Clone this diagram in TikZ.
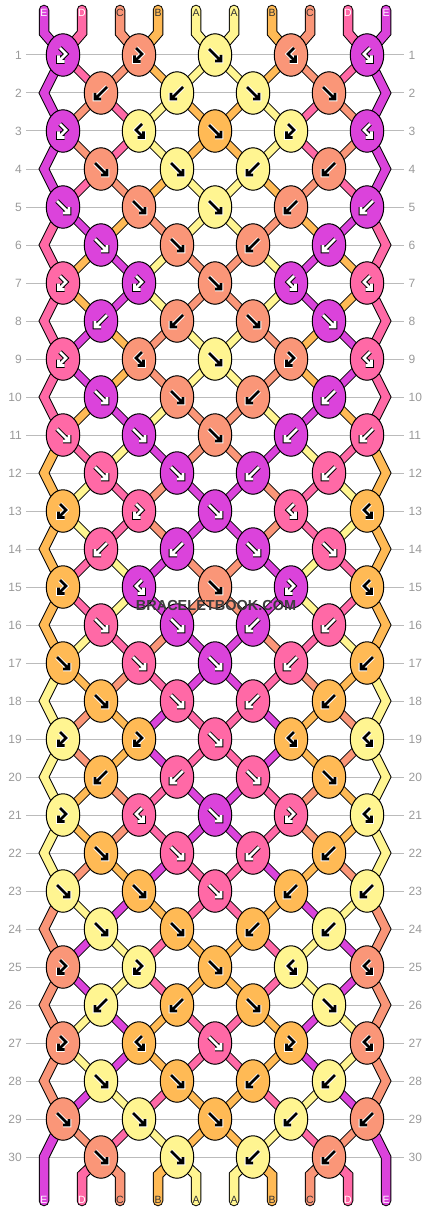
\documentclass[tikz,border=0pt]{standalone}
\usepackage{fontspec}
\setmainfont{Liberation Sans}
\usetikzlibrary{shapes.geometric}
\pgfdeclarelayer{grid}
\pgfdeclarelayer{strings}
\pgfsetlayers{grid,strings,main}
\definecolor{sE}{HTML}{DB43DB}
\definecolor{sD}{HTML}{FF69A6}
\definecolor{sC}{HTML}{FA9678}
\definecolor{sB}{HTML}{FFBA55}
\definecolor{sA}{HTML}{FFF591}
\definecolor{aiE}{HTML}{FFFFFF}\definecolor{aoE}{HTML}{000000}
\definecolor{aiD}{HTML}{FFFFFF}\definecolor{aoD}{HTML}{000000}
\definecolor{aiC}{HTML}{000000}\definecolor{aoC}{HTML}{FFFFFF}
\definecolor{aiB}{HTML}{000000}\definecolor{aoB}{HTML}{FFFFFF}
\definecolor{aiA}{HTML}{000000}\definecolor{aoA}{HTML}{FFFFFF}
\definecolor{lE}{HTML}{FFFFFF}
\definecolor{lD}{HTML}{FFFFFF}
\definecolor{lC}{HTML}{333333}
\definecolor{lB}{HTML}{333333}
\definecolor{lA}{HTML}{333333}
\definecolor{rowgray}{HTML}{999999}
\definecolor{linegray}{HTML}{BBBBBB}
\definecolor{wmgray}{HTML}{3C3C3C}
\tikzset{
  knot/.style={ellipse, draw=black, line width=1pt, minimum width=33.5pt, minimum height=42.5pt, inner sep=0pt},
  band/.style={draw=black, line width=1pt, double=s#1, double distance=6.8pt},
  edgeband/.style={draw=black, line width=1pt, double=s#1, double distance=8pt, line join=miter},
  endband/.style={draw=black, line width=1pt, double=s#1, double distance=8.5pt, line cap=round},
  endlab/.style={font=\fontsize{10.5}{11}\selectfont, inner sep=0pt},
  rowlab/.style={font=\fontsize{12}{13}\selectfont, text=rowgray, inner sep=0pt},
  rowline/.style={draw=linegray, line width=1pt},
  arout/.style={draw=ao#1, line width=4.6pt, line cap=square, line join=miter},
  arin/.style={draw=ai#1, line width=2.6pt, line cap=square, line join=miter},
  pics/arF/.style={code={
    \draw[arout=#1] (-6,-6) -- (4.5,4.5) (6,0) -- (6,6) -- (0,6);
    \draw[arin=#1] (-6,-6) -- (4.5,4.5) (6,0) -- (6,6) -- (0,6);
  }},
  pics/arB/.style={code={
    \draw[arout=#1] (6,-6) -- (-4.5,4.5) (-6,0) -- (-6,6) -- (0,6);
    \draw[arin=#1] (6,-6) -- (-4.5,4.5) (-6,0) -- (-6,6) -- (0,6);
  }},
  pics/arFB/.style={code={
    \draw[arout=#1] (-3,-7) -- (3,-1) -- (-3.5,5.5) (-4.5,0.5) -- (-4.5,6.5) -- (1.5,6.5);
    \draw[arin=#1] (-3,-7) -- (3,-1) -- (-3.5,5.5) (-4.5,0.5) -- (-4.5,6.5) -- (1.5,6.5);
  }},
  pics/arBF/.style={code={
    \draw[arout=#1] (3,-7) -- (-3,-1) -- (3.5,5.5) (4.5,0.5) -- (4.5,6.5) -- (-1.5,6.5);
    \draw[arin=#1] (3,-7) -- (-3,-1) -- (3.5,5.5) (4.5,0.5) -- (4.5,6.5) -- (-1.5,6.5);
  }},
}
\begin{document}
\begin{tikzpicture}[x=1pt,y=-1pt]
\useasboundingbox (0,0) rectangle (430,1212);

% knots
\foreach \rw/\kd in {
1/{E/FB,C/FB,A/F,C/BF,E/BF},
2/{C/B,A/B,A/F,C/F},
3/{E/FB,A/BF,B/F,A/FB,E/BF},
4/{C/F,A/F,A/B,C/B},
5/{E/F,C/F,A/F,C/B,E/B},
6/{E/F,C/F,C/B,E/B},
7/{D/FB,E/FB,C/F,E/BF,D/BF},
8/{E/B,C/B,C/F,E/F},
9/{D/FB,C/BF,A/F,C/FB,D/BF},
10/{E/F,C/F,C/B,E/B},
11/{D/F,E/F,C/F,E/B,D/B},
12/{D/F,E/F,E/B,D/B},
13/{B/FB,D/FB,E/F,D/BF,B/BF},
14/{D/B,E/B,E/F,D/F},
15/{B/FB,E/BF,C/F,E/FB,B/BF},
16/{D/F,E/F,E/B,D/B},
17/{B/F,D/F,E/F,D/B,B/B},
18/{B/F,D/F,D/B,B/B},
19/{A/FB,B/FB,D/F,B/BF,A/BF},
20/{B/B,D/B,D/F,B/F},
21/{A/FB,D/BF,E/F,D/FB,A/BF},
22/{B/F,D/F,D/B,B/B},
23/{A/F,B/F,D/F,B/B,A/B},
24/{A/F,B/F,B/B,A/B},
25/{C/FB,A/FB,B/F,A/BF,C/BF},
26/{A/B,B/B,B/F,A/F},
27/{C/FB,B/BF,D/F,B/FB,C/BF},
28/{A/F,B/F,B/B,A/B},
29/{C/F,A/F,B/F,A/B,C/B},
30/{C/F,A/F,A/B,C/B}}{
  \foreach \kc/\ky [count=\ix] in \kd {
    \ifodd\rw\relax
      \pgfmathsetmacro\xx{63+76*(\ix-1)}
    \else
      \pgfmathsetmacro\xx{101+76*(\ix-1)}
    \fi
    \pgfmathsetmacro\yy{55+38*(\rw-1)}
    \node[knot, fill=s\kc] (k-\rw-\ix) at (\xx,\yy) {};
    \edef\tmp{\noexpand\pic at (k-\rw-\ix) {ar\ky=\kc};}
    \tmp
  }
}

% row lines and numbers
\begin{pgfonlayer}{grid}
\foreach \rw in {1,...,30}{
  \pgfmathsetmacro\yy{55+38*(\rw-1)}
  \draw[rowline] (26,\yy) -- (404,\yy);
  \node[rowlab, anchor=east] (ll-\rw) at (22,\yy) {\rw};
  \node[rowlab, anchor=west] (rl-\rw) at (408.5,\yy) {\rw};
}
\end{pgfonlayer}

% strings
\begin{pgfonlayer}{strings}
\foreach \rw/\st in {
0/{E,D,C,B,A,A,B,C,D,E},
1/{E,D,C,B,A,A,B,C,D,E},
2/{E,C,D,A,B,B,A,D,C,E},
3/{E,C,D,A,B,B,A,D,C,E},
4/{E,D,C,B,A,A,B,C,D,E},
5/{D,E,B,C,A,A,C,B,E,D},
6/{D,B,E,A,C,C,A,E,B,D},
7/{D,B,E,A,C,C,A,E,B,D},
8/{D,E,B,C,A,A,C,B,E,D},
9/{D,E,B,C,A,A,C,B,E,D},
10/{D,B,E,A,C,C,A,E,B,D},
11/{B,D,A,E,C,C,E,A,D,B},
12/{B,A,D,C,E,E,C,D,A,B},
13/{B,A,D,C,E,E,C,D,A,B},
14/{B,D,A,E,C,C,E,A,D,B},
15/{B,D,A,E,C,C,E,A,D,B},
16/{B,A,D,C,E,E,C,D,A,B},
17/{A,B,C,D,E,E,D,C,B,A},
18/{A,C,B,E,D,D,E,B,C,A},
19/{A,C,B,E,D,D,E,B,C,A},
20/{A,B,C,D,E,E,D,C,B,A},
21/{A,B,C,D,E,E,D,C,B,A},
22/{A,C,B,E,D,D,E,B,C,A},
23/{C,A,E,B,D,D,B,E,A,C},
24/{C,E,A,D,B,B,D,A,E,C},
25/{C,E,A,D,B,B,D,A,E,C},
26/{C,A,E,B,D,D,B,E,A,C},
27/{C,A,E,B,D,D,B,E,A,C},
28/{C,E,A,D,B,B,D,A,E,C},
29/{E,C,D,A,B,B,A,D,C,E},
30/{E,D,C,B,A,A,B,C,D,E}}{
  \pgfmathtruncatemacro\rowA{\rw+1}
  \pgfmathtruncatemacro\rowB{\rw+2}
  \foreach \sc [count=\ps] in \st {
    \pgfmathsetmacro\xp{44+38*(\ps-1)}
    \ifnum\rw=0\relax
      \pgfmathtruncatemacro\ki{(\ps+1)/2}
      \coordinate (t-\ps) at (\xp,10);
      \draw[endband=\sc] (t-\ps) -- ++(0,23) -- (k-1-\ki.center);
      \node[endlab, text=l\sc] (tl-\ps) at (\xp,13) {\sc};
    \else\ifnum\rw=30\relax
      \coordinate (b-\ps) at (\xp,1201);
      \ifnum\ps=1\relax
        \draw[endband=\sc] (k-29-1.center) -- (44,1157) -- (b-\ps);
      \else\ifnum\ps=10\relax
        \draw[endband=\sc] (k-29-5.center) -- (386,1157) -- (b-\ps);
      \else
        \pgfmathtruncatemacro\ki{\ps/2}
        \draw[endband=\sc] (k-30-\ki.center) -- (\xp,1175) -- (b-\ps);
      \fi\fi
      \node[endlab, text=l\sc] (bl-\ps) at (\xp,1199.5) {\sc};
    \else
      \ifnum\ps>1\relax\ifnum\ps<10\relax
        \ifodd\rw\relax
          \pgfmathtruncatemacro\ia{(\ps+1)/2}
          \pgfmathtruncatemacro\ib{\ps/2}
        \else
          \pgfmathtruncatemacro\ia{\ps/2}
          \pgfmathtruncatemacro\ib{(\ps+1)/2}
        \fi
        \draw[band=\sc] (k-\rw-\ia.center) -- (k-\rowA-\ib.center);
      \fi\fi
      \ifodd\rw\relax\ifnum\rw<28\relax
        \ifnum\ps=1\relax
          \draw[edgeband=\sc] (k-\rw-1.center) -- ++(-19,38) -- (k-\rowB-1.center);
        \fi
        \ifnum\ps=10\relax
          \draw[edgeband=\sc] (k-\rw-5.center) -- ++(19,38) -- (k-\rowB-5.center);
        \fi
      \fi\fi
    \fi\fi
  }
}
\end{pgfonlayer}

\node[font=\bfseries\fontsize{14.5}{15}\selectfont, text=wmgray, inner sep=0pt] (wm) at (216,605.5) {BRACELETBOOK.COM};
\end{tikzpicture}
\end{document}
